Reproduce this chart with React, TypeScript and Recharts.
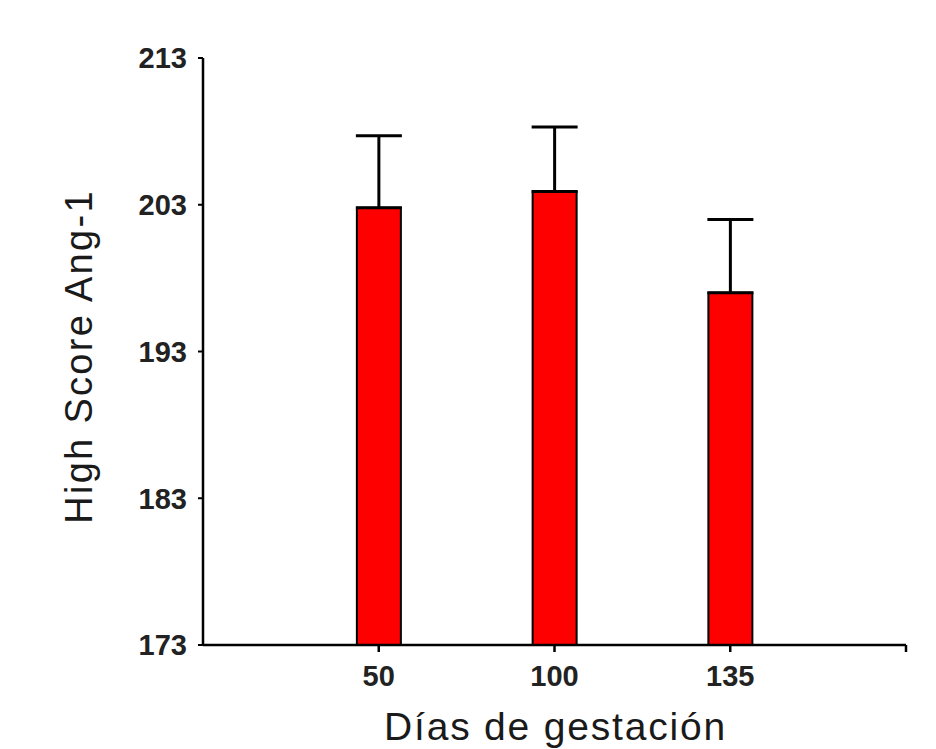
import { BarChart, Bar, XAxis, YAxis, ErrorBar } from 'recharts'

const DAYS = ['50', '100', '135']
const MEANS = [202.8, 203.9, 197.0]
const SEM = [4.9, 4.4, 5.0]
const Y_TICKS = [173, 183, 193, 203, 213]

const data = DAYS.map((d, i) => ({
  x: i + 1,
  day: d,
  mean: MEANS[i],
  err: [0, SEM[i]],
}))

const FONT = '"Liberation Sans", Arial, sans-serif'

export default function App() {
  return (
    <BarChart
      width={928}
      height={741}
      data={data}
      margin={{ top: 50, right: 30, left: 95, bottom: 64 }}
      style={{ fontFamily: FONT }}
    >
      {/* hidden axis for the error-bar layer, so the red bars paint over the lower cap */}
      <XAxis xAxisId="err" dataKey="x" type="number" domain={[0, 4]} hide />
      <XAxis
        dataKey="x"
        type="number"
        domain={[0, 4]}
        ticks={[1, 2, 3, 4]}
        tickFormatter={(v: number) => DAYS[v - 1] ?? ''}
        height={40}
        axisLine={{ stroke: '#000', strokeWidth: 2.5 }}
        tickLine={{ stroke: '#000', strokeWidth: 2.5 }}
        tickSize={7}
        tickMargin={13}
        tick={{ fill: '#222', fontSize: 29, fontWeight: 700 }}
        label={{
          content: ({ viewBox }: any) => (
            <text
              x={viewBox.x + viewBox.width / 2 + 1}
              y={732}
              textAnchor="middle"
              fontSize={39}
              letterSpacing={1.8}
              fill="#1a1a1a"
              fontFamily={FONT}
            >
              Días de gestación
            </text>
          ),
        }}
      />
      <YAxis
        type="number"
        domain={[173, 213]}
        ticks={Y_TICKS}
        width={100}
        interval={0}
        axisLine={{ stroke: '#000', strokeWidth: 2.5 }}
        tickLine={{ stroke: '#000', strokeWidth: 2 }}
        tickSize={5}
        tickMargin={11}
        tick={{ fill: '#222', fontSize: 29, fontWeight: 700 }}
        label={{
          content: ({ viewBox }: any) => {
            const cy = viewBox.y + viewBox.height / 2 + 5
            return (
              <text
                x={84}
                y={cy}
                transform={`rotate(-90 84 ${cy})`}
                textAnchor="middle"
                fontSize={38}
                letterSpacing={2.3}
                fill="#1a1a1a"
                fontFamily={FONT}
              >
                High Score Ang-1
              </text>
            )
          },
        }}
      />
      <Bar xAxisId="err" dataKey="mean" fill="transparent" barSize={44} isAnimationActive={false}>
        <ErrorBar dataKey="err" width={23} stroke="#000" strokeWidth={3} direction="y" isAnimationActive={false} />
      </Bar>
      <Bar dataKey="mean" fill="#ff0000" stroke="#000" strokeWidth={2} barSize={44} isAnimationActive={false} />
    </BarChart>
  )
}
